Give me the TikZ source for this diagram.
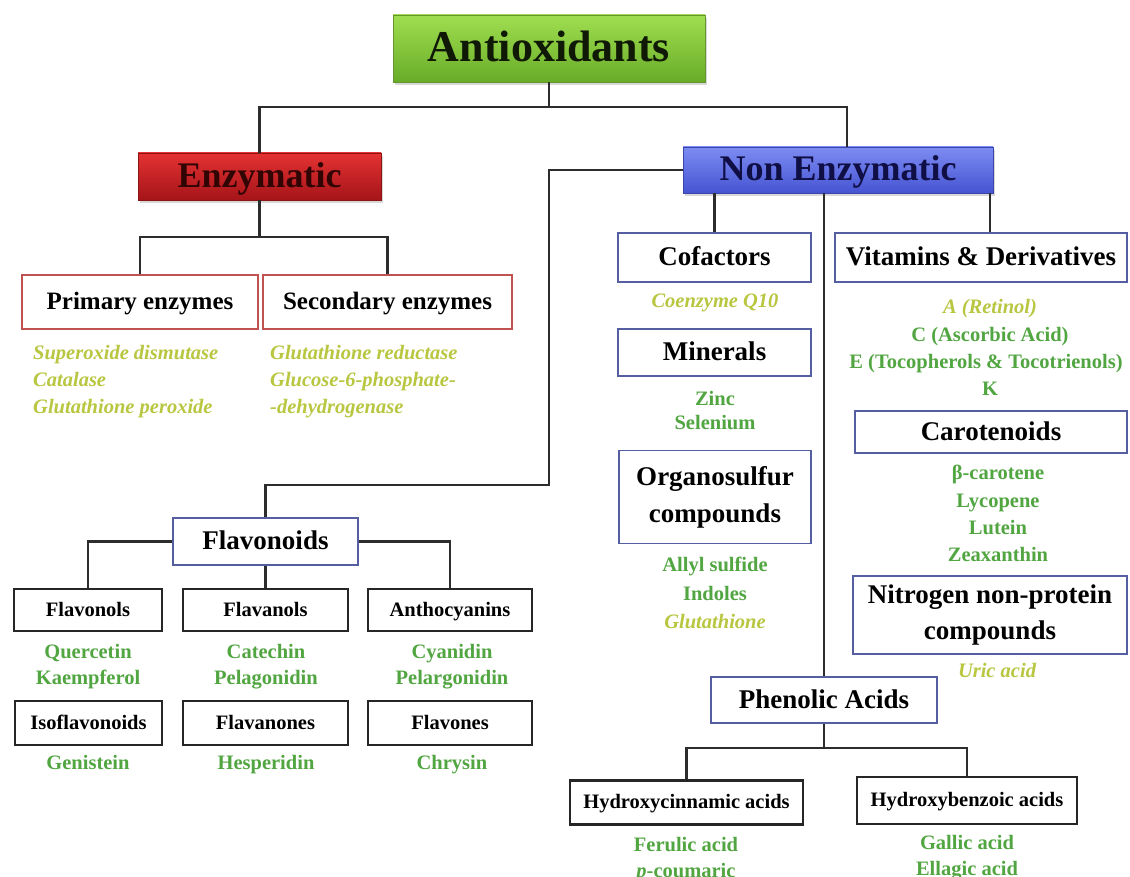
\documentclass[tikz,border=0pt]{standalone}
\usepackage{fontspec}
\setmainfont{Liberation Serif}
\usetikzlibrary{shadows}
\definecolor{itemgreen}{RGB}{82,166,66}
\definecolor{itemyel}{RGB}{184,198,64}
\definecolor{connc}{RGB}{45,45,45}
\definecolor{bluebord}{RGB}{86,94,162}
\definecolor{redbord}{RGB}{192,82,82}
\newcommand\myfs[2]{\fontsize{#1}{#2}\selectfont\bfseries}
\tikzset{
  ev/.style 2 args={text height=#1pt, text depth=#2pt},
  boxbase/.style={rectangle, inner sep=0pt, align=center, text=black},
  bluebox/.style={boxbase, draw=bluebord, line width=1.8pt, fill=white},
  redbox/.style={boxbase, draw=redbord, line width=1.8pt, fill=white},
  blackbox/.style={boxbase, ev={16}{3.7}, draw=black!85, line width=2.4pt, fill=white, font=\myfs{20.5}{24}},
  gradbox/.style={rectangle, inner sep=0pt, align=center, line width=0.8pt,
    drop shadow={opacity=0.3, shadow xshift=2pt, shadow yshift=-3pt}},
  conn/.style={draw=connc, line width=2.2pt},
  gitem/.style={text=itemgreen, font=\myfs{20.5}{24}, inner sep=0pt, ev={16}{3.7}},
  yitem/.style={text=itemyel, font=\myfs{20.5}{24}\itshape, inner sep=0pt, ev={16}{3.7}},
  lbl/.style={font=\myfs{27}{37}},
  lbl1/.style={lbl, ev={21}{4.9}},
}
\begin{document}
\begin{tikzpicture}[x=1pt,y=-1pt]
\fill[white] (0,0) rectangle (1130,877);
\useasboundingbox (0,0) rectangle (1130,877);

% ---- top level
\node[gradbox, ev={34.3}{8}, draw={rgb,255:red,100;green,150;blue,45}, top color={rgb,255:red,160;green,222;blue,80}, bottom color={rgb,255:red,104;green,172;blue,40},
  minimum width=312pt, minimum height=67pt, font=\myfs{44}{50}, text={rgb,255:red,15;green,25;blue,5}] (anti) at (549,48.5) {Antioxidants};
\node[gradbox, ev={28}{6.5}, draw={rgb,255:red,140;green,20;blue,20}, top color={rgb,255:red,228;green,50;blue,50}, bottom color={rgb,255:red,165;green,20;blue,25},
  minimum width=243pt, minimum height=47pt, font=\myfs{36}{40}, text={rgb,255:red,50;green,5;blue,5}] (enz) at (259.5,176.5) {Enzymatic};
\node[gradbox, ev={28}{6.5}, draw={rgb,255:red,60;green,70;blue,170}, top color={rgb,255:red,125;green,140;blue,242}, bottom color={rgb,255:red,70;green,84;blue,210},
  minimum width=310pt, minimum height=46pt, font=\myfs{36}{40}, text={rgb,255:red,15;green,15;blue,70}] (ne) at (838,170) {Non Enzymatic};

% ---- enzymatic branch
\node[redbox, ev={19.5}{4.5}, minimum width=236pt, minimum height=54pt, font=\myfs{25}{30}] (prim) at (140,302) {Primary enzymes};
\node[redbox, ev={19.5}{4.5}, minimum width=249pt, minimum height=54pt, font=\myfs{25}{30}] (sec) at (387.5,302) {Secondary enzymes};
\node[yitem, anchor=west] (p1) at (33,353) {Superoxide dismutase};
\node[yitem, anchor=west] (p2) at (33,380) {Catalase};
\node[yitem, anchor=west] (p3) at (33,407) {Glutathione peroxide};
\node[yitem, anchor=west] (s1) at (270,353) {Glutathione reductase};
\node[yitem, anchor=west] (s2) at (270,380) {Glucose-6-phosphate-};
\node[yitem, anchor=west] (s3) at (270,407) {-dehydrogenase};

% ---- non enzymatic, middle column
\node[bluebox, lbl1, minimum width=193pt, minimum height=49pt] (cof) at (714.5,257.5) {Cofactors};
\node[yitem] (q10) at (715,301) {Coenzyme Q10};
\node[bluebox, lbl1, minimum width=193pt, minimum height=47pt] (min) at (714.5,352.5) {Minerals};
\node[gitem] (zn) at (715,399) {Zinc};
\node[gitem] (se) at (715,423) {Selenium};
\node[bluebox, lbl, minimum width=192pt, minimum height=93pt] (org) at (715,497) {Organosulfur\\compounds};
\node[gitem] (o1) at (715,565) {Allyl sulfide};
\node[gitem] (o2) at (715,594) {Indoles};
\node[yitem] (o3) at (715,622) {Glutathione};

% ---- non enzymatic, right column
\node[bluebox, lbl1, minimum width=292pt, minimum height=49pt] (vit) at (981,257.5) {Vitamins \& Derivatives};
\node[yitem] (v1) at (990,307) {A (Retinol)};
\node[gitem] (v2) at (990,335) {C (Ascorbic Acid)};
\node[gitem] (v3) at (986,362) {E (Tocopherols \& Tocotrienols)};
\node[gitem] (v4) at (990,389) {K};
\node[bluebox, lbl1, minimum width=272pt, minimum height=42pt] (car) at (991,432) {Carotenoids};
\node[gitem] (c1) at (998,473) {β-carotene};
\node[gitem] (c2) at (998,501) {Lycopene};
\node[gitem] (c3) at (998,528) {Lutein};
\node[gitem] (c4) at (998,555) {Zeaxanthin};
\node[bluebox, font=\myfs{27}{36}, minimum width=274pt, minimum height=78pt] (nit) at (990,615) {Nitrogen non-protein\\compounds};
\node[yitem] (uric) at (997,671) {Uric acid};

% ---- phenolic acids
\node[bluebox, lbl1, minimum width=226pt, minimum height=46pt] (phen) at (824,700) {Phenolic Acids};
\node[blackbox, minimum width=233pt, minimum height=44pt] (hcin) at (686.5,802.5) {Hydroxycinnamic acids};
\node[blackbox, minimum width=220pt, minimum height=47pt] (hben) at (967,800.5) {Hydroxybenzoic acids};
\node[gitem] (h1) at (686,845) {Ferulic acid};
\node[gitem] (h2) at (686,871) {\textit{p}-coumaric};
\node[gitem] (b1) at (967,843) {Gallic acid};
\node[gitem] (b2) at (967,869) {Ellagic acid};

% ---- flavonoids
\node[bluebox, lbl1, minimum width=185pt, minimum height=47pt] (flav) at (265.5,541.5) {Flavonoids};
\node[blackbox, minimum width=148pt, minimum height=42pt] (fol) at (88,610) {Flavonols};
\node[blackbox, minimum width=165pt, minimum height=42pt] (fan) at (265.5,610) {Flavanols};
\node[blackbox, minimum width=164pt, minimum height=42pt] (ant) at (450,610) {Anthocyanins};
\node[blackbox, minimum width=147pt, minimum height=44pt] (iso) at (88.5,723) {Isoflavonoids};
\node[blackbox, minimum width=165pt, minimum height=44pt] (fnon) at (265.5,723) {Flavanones};
\node[blackbox, minimum width=164pt, minimum height=44pt] (fone) at (450,723) {Flavones};
\node[gitem] (f1) at (88,652) {Quercetin};
\node[gitem] (f2) at (88,678) {Kaempferol};
\node[gitem] (f3) at (266,652) {Catechin};
\node[gitem] (f4) at (266,678) {Pelagonidin};
\node[gitem] (f5) at (452,652) {Cyanidin};
\node[gitem] (f6) at (452,678) {Pelargonidin};
\node[gitem] (f7) at (88,763) {Genistein};
\node[gitem] (f8) at (266,763) {Hesperidin};
\node[gitem] (f9) at (452,763) {Chrysin};

% ---- connectors
\coordinate (j1) at (549,107);
\coordinate (j2) at (259.5,237);
\coordinate (j3) at (549,485);
\coordinate (j4) at (824,748);
\draw[conn] (anti.south) -- (j1);
\draw[conn] (enz.north) |- (j1) -| ([xshift=9pt]ne.north);
\draw[conn] (enz.south) -- (j2);
\draw[conn] (prim.north) |- (j2) -| (sec.north);
\draw[conn] (ne.west) -| (j3) -| (flav.north);
\draw[conn] (ne.south -| cof.north) -- (cof.north);
\draw[conn] (ne.south -| phen.north) -- (phen.north);
\draw[conn] ([xshift=9pt]vit.north |- ne.south) -- ([xshift=9pt]vit.north);
\draw[conn] (flav.west) -| (fol.north);
\draw[conn] (flav.east) -| (ant.north);
\draw[conn] (flav.south) -- (fan.north);
\draw[conn] (phen.south) -- (j4);
\draw[conn] (hcin.north) |- (j4) -| (hben.north);
\end{tikzpicture}
\end{document}
